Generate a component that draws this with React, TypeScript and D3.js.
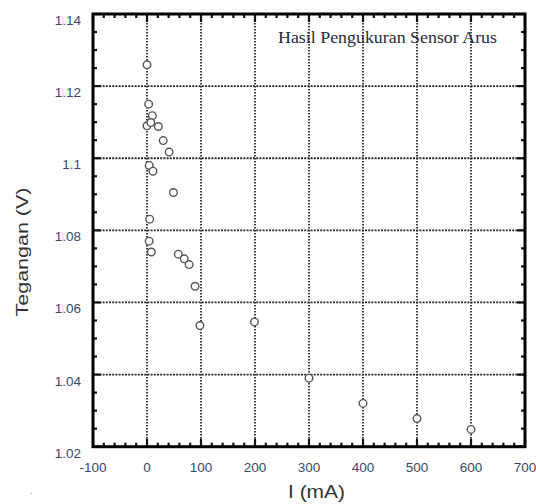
import React from "react";
import * as d3 from "d3";

const currentMA = [0, 3, 10, 0, 7, 21, 30, 41, 4, 11, 49, 5, 4, 8, 58, 69, 78, 89, 98, 199, 300, 400, 500, 600];
const voltageV = [1.1259, 1.115, 1.1118, 1.109, 1.1099, 1.1088, 1.1049, 1.1017, 1.098, 1.0964, 1.0905, 1.0831, 1.077, 1.074, 1.0734, 1.0721, 1.0705, 1.0645, 1.0536, 1.0546, 1.039, 1.032, 1.0278, 1.0248];
const xTicks = [-100, 0, 100, 200, 300, 400, 500, 600, 700];
const yTicks = [1.02, 1.04, 1.06, 1.08, 1.1, 1.12, 1.14];
const yTickLabels = ["1.02", "1.04", "1.06", "1.08", "1.1", "1.12", "1.14"];
const chartTitle = "Hasil Pengukuran Sensor Arus";
const xTitle = "I (mA)";
const yTitle = "Tegangan (V)";

export default function App() {
  const W = 536, H = 504;
  const L = 93, R = 525, T = 14, B = 446.7;
  const x = d3.scaleLinear().domain([-100, 700]).range([L, R]);
  const y = d3.scaleLinear().domain([1.02, 1.14]).range([B, T]);
  const xMinor = d3.range(-100, 701, 20);
  const yMinor = d3.range(0, 25).map((i) => 1.02 + i * 0.005);
  const labelColor = "#3a4866";
  const grid = "#2a2a2a";
  return (
    <svg width={W} height={H} style={{ position: "absolute", left: 0, top: 0, background: "#fff" }}>
      {xTicks.slice(1, -1).map((t) => (
        <line key={"gx" + t} x1={x(t)} x2={x(t)} y1={T} y2={B} stroke={grid} strokeWidth={1.8} strokeDasharray="1.5,1.5" />
      ))}
      {yTicks.slice(1, -1).map((t) => (
        <line key={"gy" + t} x1={L} x2={R} y1={y(t)} y2={y(t)} stroke={grid} strokeWidth={1.8} strokeDasharray="2,1.2" />
      ))}
      {xMinor.map((t) => {
        const major = Math.abs(t % 100) < 1e-6;
        const len = major ? 8 : 4;
        return (
          <g key={"xt" + t}>
            <line x1={x(t)} x2={x(t)} y1={B} y2={B - len} stroke="#111" strokeWidth={2.2} />
            <line x1={x(t)} x2={x(t)} y1={T} y2={T + len} stroke="#111" strokeWidth={2.2} />
          </g>
        );
      })}
      {yMinor.map((t, i) => {
        const major = i % 4 === 0;
        const len = major ? 8 : 4;
        return (
          <g key={"yt" + i}>
            <line x1={L} x2={L + len} y1={y(t)} y2={y(t)} stroke="#111" strokeWidth={2.2} />
            <line x1={R} x2={R - len} y1={y(t)} y2={y(t)} stroke="#111" strokeWidth={2.2} />
          </g>
        );
      })}
      <rect x={L} y={T} width={R - L} height={B - T} fill="none" stroke="#000" strokeWidth={3} />
      {currentMA.map((c, i) => (
        <circle key={"p" + i} cx={x(c)} cy={y(voltageV[i])} r={3.8} fill="#fff" stroke="#555" strokeWidth={1.4} />
      ))}
      {yTicks.map((t, i) => (
        <text key={"yl" + t} x={L - 12} y={y(t) + 11} textAnchor="end" fontFamily="Liberation Sans, Arial, sans-serif" fontSize={13.5} fill={labelColor}>
          {yTickLabels[i]}
        </text>
      ))}
      {xTicks.map((t) => (
        <text key={"xl" + t} x={x(t)} y={B + 25} textAnchor="middle" fontFamily="Liberation Sans, Arial, sans-serif" fontSize={13.5} fill={labelColor}>
          {t}
        </text>
      ))}
      <text x={278} y={43} fontFamily="Liberation Serif, Times New Roman, serif" fontSize={16.5} fill="#2a2a3a" textLength={219} lengthAdjust="spacingAndGlyphs">
        {chartTitle}
      </text>
      <text x={288} y={498} fontFamily="Liberation Sans, Arial, sans-serif" fontSize={18} fill="#333" textLength={57} lengthAdjust="spacingAndGlyphs">
        {xTitle}
      </text>
      <text transform={`translate(28,252) rotate(-90)`} x={-64.5} fontFamily="Liberation Sans, Arial, sans-serif" fontSize={17} fill="#333" textLength={129} lengthAdjust="spacingAndGlyphs">
        {yTitle}
      </text>
      <text x={30} y={494} fontFamily="Liberation Sans, Arial, sans-serif" fontSize={10} fill="#888">.</text>
    </svg>
  );
}
